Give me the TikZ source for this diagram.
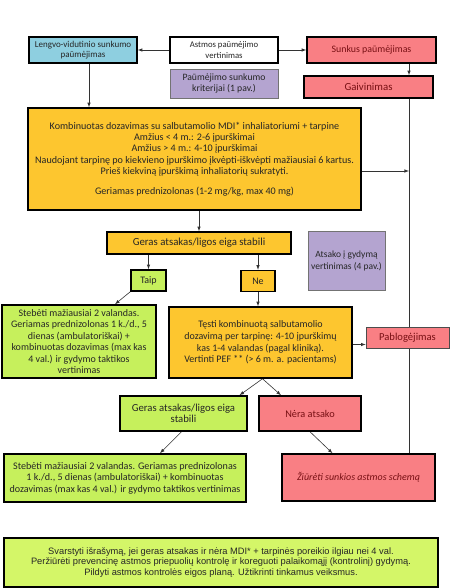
\documentclass[tikz,border=0pt]{standalone}
\usepackage{fontspec}
\setmainfont{Carlito}
\newfontfamily\arialfont{Liberation Sans}
\usetikzlibrary{arrows}
\pgfdeclarelayer{edgelayer}
\pgfdeclarelayer{nodelayer}
\pgfsetlayers{edgelayer,nodelayer,main}
\definecolor{boxblue}{RGB}{142,207,224}
\definecolor{boxorange}{RGB}{253,198,47}
\definecolor{boxgreen}{RGB}{198,240,92}
\definecolor{boxlime}{RGB}{212,246,104}
\definecolor{boxred}{RGB}{249,127,132}
\definecolor{boxpurple}{RGB}{180,164,208}
\definecolor{redtext}{RGB}{120,16,20}
\newcommand{\fs}[2]{\fontsize{#1}{#2}\selectfont}
\tikzstyle{box}=[rectangle,draw=black,line width=1.5pt,align=center,inner sep=0pt,text=black!85,font=\fs{10}{11.5}]
\tikzstyle{bluebox}=[box,fill=boxblue]
\tikzstyle{whitebox}=[box,fill=white]
\tikzstyle{orangebox}=[box,fill=boxorange]
\tikzstyle{greenbox}=[box,fill=boxgreen]
\tikzstyle{redbox}=[box,fill=boxred,text=redtext]
\tikzstyle{infobox}=[box,fill=boxpurple,draw=black!55,line width=0.6pt]
\tikzstyle{flow}=[-latex,draw=black!80,line width=0.6pt]

\begin{document}
\begin{tikzpicture}[x=1pt,y=-1pt]
	\useasboundingbox (0,0) rectangle (474,588);
	\begin{pgfonlayer}{nodelayer}
		\node [style=bluebox, font=\fs{9}{10.5}, minimum width=108pt, minimum height=26pt] (lengvo) at (83, 50) {Lengvo-vidutinio sunkumo\\paūmėjimas};
		\node [style=whitebox, font=\fs{8.7}{10.5}, minimum width=108pt, minimum height=26pt] (astmos) at (224, 50) {Astmos paūmėjimo\\vertinimas};
		\node [style=infobox, font=\fs{9.7}{11.5}, minimum width=108pt, minimum height=29pt] (kriter) at (224, 83.5) {Paūmėjimo sunkumo\\kriterijai (1 pav.)};
		\node [style=redbox, font=\fs{9.9}{12}, minimum width=129pt, minimum height=26pt] (sunkus) at (371.5, 50) {Sunkus paūmėjimas};
		\node [style=redbox, font=\fs{10.8}{12}, minimum width=129pt, minimum height=22pt] (gaiv) at (368.5, 87) {Gaivinimas};
		\node [style=orangebox, font=\fs{10.1}{11.3}, minimum width=333pt, minimum height=102pt] (komb) at (194.5, 159) {Kombinuotas dozavimas su salbutamolio MDI* inhaliatoriumi + tarpine\\Amžius < 4 m.: 2-6 įpurškimai\\Amžius > 4 m.: 4-10 įpurškimai\\Naudojant tarpinę po kiekvieno įpurškimo įkvėpti-iškvėpti mažiausiai 6 kartus.\\Prieš kiekviną įpurškimą inhaliatorių sukratyti.\\[8.5pt]Geriamas prednizolonas (1-2 mg/kg, max 40 mg)};
		\node [style=orangebox, font=\fs{10.8}{12}, minimum width=184pt, minimum height=22pt] (geras1) at (199, 243) {Geras atsakas/ligos eiga stabili};
		\node [style=greenbox, minimum width=35pt, minimum height=21pt] (taip) at (148.5, 280.5) {Taip};
		\node [style=orangebox, minimum width=34pt, minimum height=21pt] (ne) at (258, 281) {Ne};
		\node [style=infobox, font=\fs{9.5}{12}, minimum width=77pt, minimum height=59pt] (atsako) at (346.5, 260.5) {Atsako į gydymą\\vertinimas (4 pav.)};
		\node [style=greenbox, minimum width=154pt, minimum height=73pt] (steb1) at (79, 341.5) {Stebėti mažiausiai 2 valandas.\\Geriamas prednizolonas 1 k./d., 5\\dienas (ambulatoriškai) +\\kombinuotas dozavimas (max kas\\4 val.) ir gydymo taktikos\\vertinimas};
		\node [style=orangebox, font=\fs{10}{11.8}, minimum width=183pt, minimum height=71pt] (testi) at (260.5, 342.5) {Tęsti kombinuotą salbutamolio\\dozavimą per tarpinę: 4-10 įpurškimų\\kas 1-4 valandas (pagal kliniką).\\Vertinti PEF ** (> 6 m. a. pacientams)};
		\node [style=redbox, font=\fs{10.6}{12}, draw=black!70, line width=0.8pt, minimum width=83pt, minimum height=21pt] (pablo) at (407.5, 337.5) {Pablogėjimas};
		\node [style=greenbox, font=\fs{10.7}{11.5}, minimum width=127pt, minimum height=35pt] (geras2) at (183.5, 413.5) {Geras atsakas/ligos eiga\\stabili};
		\node [style=redbox, font=\fs{10.3}{12}, minimum width=102pt, minimum height=35pt] (nera) at (310, 413.5) {Nėra atsako};
		\node [style=greenbox, font=\fs{10.1}{11.5}, minimum width=242pt, minimum height=48pt] (steb2) at (125, 478) {Stebėti mažiausiai 2 valandas. Geriamas prednizolonas\\1 k./d., 5 dienas (ambulatoriškai) + kombinuotas\\dozavimas (max kas 4 val.) ir gydymo taktikos vertinimas};
		\node [style=redbox, font=\fs{10}{11}\itshape, minimum width=153pt, minimum height=47pt] (ziur) at (358.5, 477.5) {Žiūrėti sunkios astmos schemą};
		\node [style=box, fill=boxlime, font=\arialfont\fs{9.3}{10.5}, minimum width=434pt, minimum height=49pt] (final) at (221, 562.5) {Svarstyti išrašymą, jei geras atsakas ir nėra MDI* + tarpinės poreikio ilgiau nei 4 val.\\Peržiūrėti prevencinę astmos priepuolių kontrolę ir koreguoti palaikomąjį (kontrolinį) gydymą.\\Pildyti astmos kontrolės eigos planą. Užtikrinti tinkamus veiksmus.};
		\coordinate (rail) at (409, 98);
	\end{pgfonlayer}
	\begin{pgfonlayer}{edgelayer}
		\draw [style=flow] (astmos.west) to (lengvo.east);
		\draw [style=flow] (astmos.east) to (sunkus.west);
		\draw [style=flow] (sunkus.south -| rail) to (gaiv.north -| rail);
		\draw [style=flow] (gaiv.south -| rail) to ([yshift=-6pt]ziur.north -| rail);
		\draw [style=flow] ([yshift=-12pt]komb.east) to ([yshift=-12pt]komb.east -| rail);
		\draw [style=flow] ([xshift=6pt]lengvo.south) to ([xshift=6pt]lengvo.south |- komb.north);
		\draw [style=flow] (geras1.north |- komb.south) to (geras1.north);
		\draw [style=flow] (taip.north |- geras1.south) to (taip.north);
		\draw [style=flow] (ne.north |- geras1.south) to (ne.north);
		\draw [style=flow] (taip.south west) to ([xshift=36pt]steb1.north);
		\draw [style=flow] (ne.south) to (ne.south |- testi.north);
		\draw [style=flow] ([yshift=-2pt]testi.east) to ([yshift=-2pt]testi.east -| pablo.west);
		\draw [style=flow] ([xshift=2pt]testi.south) to ([xshift=56pt]geras2.north);
		\draw [style=flow] ([xshift=2pt]testi.south) to ([xshift=-29pt]nera.north);
		\draw [style=flow] ([xshift=-2pt]geras2.south) to ([xshift=35pt]steb2.north);
		\draw [style=flow] (nera.south) to ([xshift=-26pt]ziur.north);
	\end{pgfonlayer}
\end{tikzpicture}
\end{document}
